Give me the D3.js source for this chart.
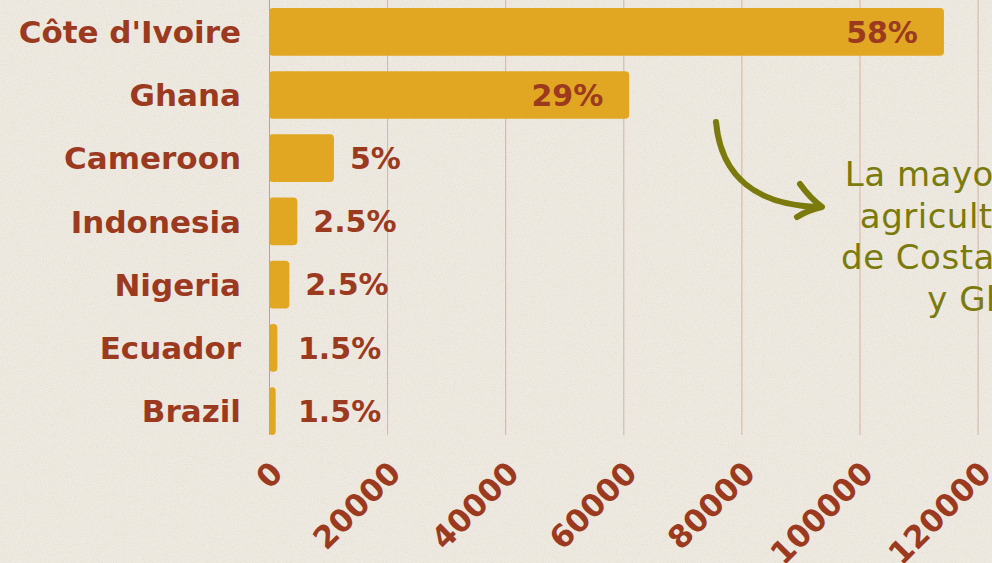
<!DOCTYPE html>
<html lang="es">
    <head>
        <meta charset="utf-8">
        <title>Cacao por país</title>
        <script src="https://d3js.org/d3.v7.min.js"></script>
        <style type="text/css">
          html, body {
            margin: 0;
            padding: 0;
            background: #efeae1;
            overflow: hidden;
          }
          svg {
            display: block;
            width: 992px;
            height: 563px;
          }
          .country {
            font-family: "DejaVu Sans", sans-serif;
            font-weight: bold;
            font-size: 31px;
            fill: #9b3a1f;
          }
          .pct {
            font-family: "DejaVu Sans", sans-serif;
            font-weight: bold;
            font-size: 30px;
            fill: #9b3a1f;
          }
          .tick text {
            font-family: "DejaVu Sans", sans-serif;
            font-weight: bold;
            font-size: 31px;
            fill: #9b3a1f;
          }
          .note {
            font-family: "DejaVu Sans", sans-serif;
            font-size: 34px;
            letter-spacing: 0.5px;
            fill: #7b7a0c;
          }
        </style>
    </head>
    <body>
        <svg></svg>

        <script type="text/javascript">

        // data
        const countries = ["Côte d'Ivoire", "Ghana", "Cameroon", "Indonesia", "Nigeria", "Ecuador", "Brazil"];
        const production = [114300, 61000, 11000, 4800, 3450, 1420, 1130];
        const shares = ["58%", "29%", "5%", "2.5%", "2.5%", "1.5%", "1.5%"];
        const xTicks = [0, 20000, 40000, 60000, 80000, 100000, 120000];
        const noteLines = ["La mayoría de los", "agricultores son", "de Costa de Marfil", "y Ghana"];

        const rows = countries.map((c, i) => ({country: c, value: production[i], share: shares[i]}));

        const left = 269, right = 977.6, bottom = 435;

        const svg = d3.select("svg");

        // faint paper grain
        const defs = svg.append("defs");
        const grain = defs.append("filter").attr("id", "grain")
            .attr("x", 0).attr("y", 0).attr("width", "100%").attr("height", "100%");
        grain.append("feTurbulence")
            .attr("type", "fractalNoise")
            .attr("baseFrequency", 0.9)
            .attr("numOctaves", 2)
            .attr("seed", 3);
        grain.append("feColorMatrix")
            .attr("values", "0 0 0 0 0.45  0 0 0 0 0.40  0 0 0 0 0.33  0 0 0 -2.2 1.25");
        svg.append("rect")
            .attr("width", 992).attr("height", 563)
            .attr("fill", "#efeae1");
        svg.append("rect")
            .attr("width", 992).attr("height", 563)
            .attr("filter", "url(#grain)")
            .attr("opacity", 0.18);

        const x = d3.scaleLinear()
                    .domain([0, 120000])
                    .range([left, right]);

        const y = d3.scaleBand()
                    .domain(countries)
                    .range([0, bottom])
                    .paddingInner(0.245)
                    .paddingOuter(0.0625)
                    .align(1);

        // gridlines + rotated tick labels
        const axis = svg.append("g")
            .attr("transform", "translate(0," + bottom + ")")
            .call(d3.axisBottom(x).tickValues(xTicks).tickSize(-bottom).tickFormat(d3.format("d")));

        axis.select(".domain").remove();
        axis.selectAll(".tick line")
            .attr("stroke", "#d6b3a3")
            .attr("stroke-width", 1);
        axis.selectAll(".tick")
            .filter(d => d === 0)
            .select("line")
            .attr("stroke", "#c49d90");
        axis.selectAll(".tick text")
            .attr("y", 0)
            .attr("dy", 0)
            .attr("text-anchor", "end")
            .attr("transform", "translate(15,40) rotate(-45)");

        // bars
        svg.append("g")
            .selectAll("rect")
            .data(rows)
            .join("rect")
            .attr("x", x(0))
            .attr("y", d => y(d.country))
            .attr("width", d => x(d.value) - x(0))
            .attr("height", y.bandwidth())
            .attr("rx", 4)
            .attr("fill", "#e1a722");

        // country names
        svg.append("g")
            .selectAll("text")
            .data(rows)
            .join("text")
            .attr("class", "country")
            .attr("x", x(0) - 28)
            .attr("y", d => y(d.country) + y.bandwidth() / 2)
            .attr("dy", "0.36em")
            .attr("text-anchor", "end")
            .text(d => d.country);

        // share labels: inside long bars, beside short ones
        svg.append("g")
            .selectAll("text")
            .data(rows)
            .join("text")
            .attr("class", "pct")
            .attr("x", d => d.value > 50000 ? x(d.value) - 26 : Math.max(x(d.value) + 16, 298))
            .attr("y", d => y(d.country) + y.bandwidth() / 2)
            .attr("dy", "0.36em")
            .attr("text-anchor", d => d.value > 50000 ? "end" : "start")
            .text(d => d.share);

        // annotation arrow
        const olive = "#7b7a0c";
        svg.append("path")
            .attr("d", "M716,122 C721,178 758,205 818,207")
            .attr("fill", "none")
            .attr("stroke", olive)
            .attr("stroke-width", 6)
            .attr("stroke-linecap", "round");
        svg.append("path")
            .attr("d", "M800,184 Q810,198 822,207 Q808,210 797,217")
            .attr("fill", "none")
            .attr("stroke", olive)
            .attr("stroke-width", 6)
            .attr("stroke-linecap", "round")
            .attr("stroke-linejoin", "round");

        svg.append("text")
            .attr("class", "note")
            .attr("text-anchor", "middle")
            .selectAll("tspan")
            .data(noteLines)
            .join("tspan")
            .attr("x", 1000)
            .attr("y", (d, i) => 186 + i * 41.5)
            .text(d => d);

        </script>
    </body>
</html>
